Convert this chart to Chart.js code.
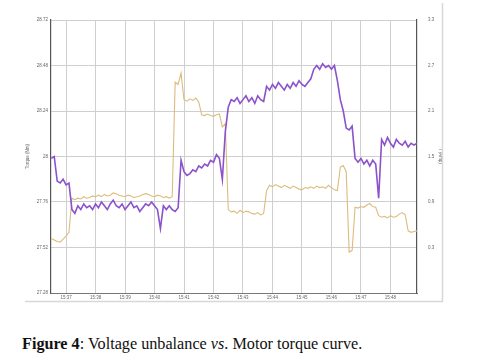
<!DOCTYPE html>
<html>
<head>
<meta charset="utf-8">
<script src="https://cdn.jsdelivr.net/npm/chart.js@4/dist/chart.umd.min.js"></script>
<style>
  body { margin: 0; background: #fff; }
  #wrap { position: absolute; left: 0; top: 0; width: 477px; height: 303px; }
  #caption { position: absolute; left: 22px; top: 335px; font-family: "Liberation Serif", "Times New Roman", serif; font-size: 16.2px; color: #111; white-space: nowrap; }
</style>
</head>
<body>
<div id="wrap"><canvas id="MotorChart"></canvas></div>
<div id="caption"><b>Figure 4</b>: Voltage unbalance <i>vs</i>. Motor torque curve.</div>
<script>
// time in minutes after 15:00
times = [36.5, 36.6, 36.7, 36.8, 36.9, 37.0, 37.1, 37.2, 37.3, 37.4,
         37.5, 37.6, 37.7, 37.8, 37.9, 38.0, 38.1, 38.2, 38.3, 38.4,
         38.5, 38.6, 38.7, 38.8, 38.9, 39.0, 39.1, 39.2, 39.3, 39.4,
         39.5, 39.6, 39.7, 39.8, 39.9, 40.0, 40.1, 40.2, 40.3, 40.4,
         40.5, 40.6, 40.7, 40.8, 40.9, 41.0, 41.1, 41.2, 41.3, 41.4,
         41.5, 41.6, 41.7, 41.8, 41.9, 42.0, 42.1, 42.2, 42.3, 42.4,
         42.5, 42.6, 42.7, 42.8, 42.9, 43.0, 43.1, 43.2, 43.3, 43.4,
         43.5, 43.6, 43.7, 43.8, 43.9, 44.0, 44.1, 44.2, 44.3, 44.4,
         44.5, 44.6, 44.7, 44.8, 44.9, 45.0, 45.1, 45.2, 45.3, 45.4,
         45.5, 45.6, 45.7, 45.8, 45.9, 46.0, 46.1, 46.2, 46.3, 46.4,
         46.5, 46.6, 46.7, 46.8, 46.9, 47.0, 47.1, 47.2, 47.3, 47.4,
         47.5, 47.6, 47.7, 47.8, 47.9, 48.0, 48.1, 48.2, 48.3, 48.4,
         48.5, 48.6, 48.7, 48.8, 48.9];

torque = [27.99, 28.00, 27.87, 27.86, 27.88, 27.85, 27.86, 27.72, 27.70, 27.74,
          27.72, 27.75, 27.73, 27.74, 27.72, 27.75, 27.73, 27.76, 27.74, 27.72,
          27.75, 27.77, 27.74, 27.73, 27.75, 27.72, 27.74, 27.76, 27.73, 27.74,
          27.71, 27.73, 27.75, 27.74, 27.76, 27.74, 27.72, 27.62, 27.74, 27.72,
          27.74, 27.72, 27.71, 27.73, 27.98, 27.92, 27.90, 27.91, 27.93, 27.92,
          27.95, 27.94, 27.96, 27.95, 27.98, 27.97, 28.01, 27.99, 27.88, 28.13,
          28.26, 28.30, 28.29, 28.31, 28.28, 28.30, 28.32, 28.29, 28.31, 28.28,
          28.32, 28.30, 28.29, 28.37, 28.35, 28.38, 28.36, 28.39, 28.37, 28.35,
          28.38, 28.36, 28.39, 28.37, 28.40, 28.38, 28.37, 28.39, 28.41, 28.46,
          28.48, 28.46, 28.49, 28.47, 28.48, 28.46, 28.48, 28.40, 28.30, 28.24,
          28.15, 28.14, 28.16, 27.99, 27.97, 27.99, 27.96, 27.98, 27.95, 27.98,
          27.96, 27.78, 28.09, 28.06, 28.10, 28.07, 28.05, 28.09, 28.07, 28.06,
          28.08, 28.05, 28.07, 28.06, 28.07];

current = [0.42, 0.40, 0.38, 0.37, 0.41, 0.45, 0.50, 0.95, 0.93, 0.95,
           0.94, 0.97, 0.95, 0.96, 0.98, 0.97, 0.99, 0.97, 1.00, 0.98,
           0.99, 1.02, 1.01, 0.99, 0.98, 0.97, 0.99, 0.98, 0.96, 0.97,
           0.98, 1.00, 1.01, 1.00, 0.98, 0.97, 0.99, 0.98, 0.96, 0.97,
           0.95, 0.97, 2.48, 2.45, 2.60, 2.25, 2.23, 2.26, 2.24, 2.27,
           2.22, 2.05, 2.04, 2.06, 2.04, 2.03, 2.05, 2.06, 1.89, 1.93,
           0.80, 0.77, 0.78, 0.75, 0.79, 0.76, 0.78, 0.77, 0.75, 0.74,
           0.76, 0.73, 0.75, 1.05, 1.12, 1.10, 1.13, 1.11, 1.09, 1.12,
           1.10, 1.08, 1.11, 1.09, 1.07, 1.06, 1.09, 1.08, 1.10, 1.08,
           1.11, 1.09, 1.10, 1.08, 1.12, 1.09, 1.06, 1.05, 1.36, 1.38,
           1.30, 0.24, 0.26, 0.83, 0.82, 0.84, 0.83, 0.86, 0.88, 0.84,
           0.83, 0.72, 0.70, 0.71, 0.69, 0.72, 0.70, 0.71, 0.74, 0.76,
           0.73, 0.52, 0.50, 0.51, 0.52];

xTicks = [37, 38, 39, 40, 41, 42, 43, 44, 45, 46, 47, 48];
torqueTicks = [27.28, 27.52, 27.76, 28, 28.24, 28.48, 28.72];
currentTicks = [0.3, 0.9, 1.5, 2.1, 2.7, 3.3];

function pts(ys) {
    return times.map((t, i) => ({x: t, y: ys[i]}));
}

// frame round the figure (right and bottom edge only)
const framePlugin = {
    id: 'frame',
    afterDraw(chart) {
        const g = chart.ctx;
        g.save();
        g.strokeStyle = '#d8d8d8';
        g.lineWidth = 1.5;
        g.beginPath();
        g.moveTo(442.5, 3);
        g.lineTo(442.5, 301.5);
        g.lineTo(25, 301.5);
        g.stroke();
        g.restore();
    }
};

function OnLoaded() {
    const ctx = document.getElementById('MotorChart');
    const tickFont = {family: 'Arial, "Liberation Sans"', size: 4.5};

    c = new Chart(ctx, {
        type: 'scatter',
        data: {
            datasets: [{
                label: 'Torque',
                data: pts(torque),
                showLine: true,
                borderColor: '#8b52cc',
                borderWidth: 1.6,
                pointRadius: 0,
                yAxisID: 'y'
            }, {
                label: 'Current',
                data: pts(current),
                showLine: true,
                borderColor: '#dcbc7c',
                borderWidth: 1.1,
                pointRadius: 0,
                yAxisID: 'y1'
            }]
        },
        options: {
            animation: false,
            responsive: true,
            maintainAspectRatio: false,
            layout: {padding: {left: 25, right: 34, top: 20, bottom: 0}},
            plugins: {legend: {display: false}, tooltip: {enabled: false}},
            scales: {
                x: {
                    type: 'linear',
                    min: 36.49,
                    max: 48.9,
                    afterBuildTicks: s => { s.ticks = xTicks.map(v => ({value: v})); },
                    afterFit: s => { s.height = 10; },
                    grid: {color: '#cfcfcf', lineWidth: 1, drawTicks: false},
                    border: {color: '#777', width: 1},
                    ticks: {
                        font: tickFont,
                        color: '#666',
                        padding: 2,
                        maxRotation: 0,
                        callback: v => '15:' + v
                    }
                },
                y: {
                    position: 'left',
                    min: 27.28,
                    max: 28.72,
                    afterBuildTicks: s => { s.ticks = torqueTicks.map(v => ({value: v})); },
                    afterFit: s => { s.width = 26; },
                    grid: {color: '#cfcfcf', lineWidth: 1, drawTicks: false},
                    border: {color: '#555', width: 1.2},
                    title: {display: true, text: 'Torque (Nm)', font: tickFont, color: '#666', padding: 0},
                    ticks: {font: tickFont, color: '#666', padding: 3, callback: v => String(v)}
                },
                y1: {
                    position: 'right',
                    min: -0.3,
                    max: 3.3,
                    afterBuildTicks: s => { s.ticks = currentTicks.map(v => ({value: v})); },
                    afterFit: s => { s.width = 26; },
                    grid: {display: false},
                    border: {color: '#555', width: 1.2},
                    title: {display: true, text: 'I (Amp)', font: tickFont, color: '#666', padding: 0},
                    ticks: {font: tickFont, color: '#666', padding: 3, callback: v => String(v)}
                }
            }
        },
        plugins: [framePlugin]
    });
}

OnLoaded();
</script>
</body>
</html>
